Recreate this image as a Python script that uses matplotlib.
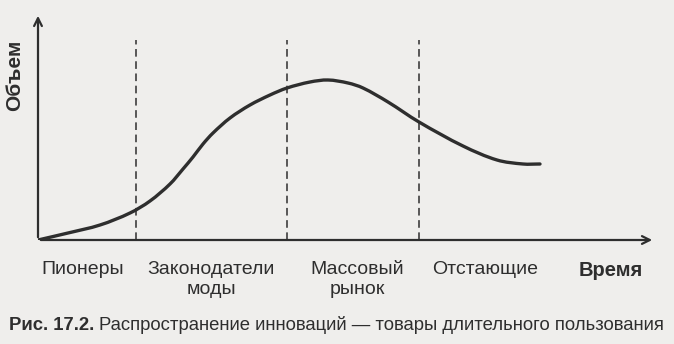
import matplotlib
matplotlib.use('Agg')
import matplotlib.pyplot as plt
from matplotlib.path import Path
from matplotlib.patches import PathPatch
import numpy as np

# кривая (время, объем)
vremya = [0, 30, 62, 92, 112, 132, 145, 155, 165, 175, 192, 212, 232, 249, 272,
          290, 310, 325, 350, 381, 425, 459, 485, 502]
obem = [0, 7, 15, 27, 39, 56, 71, 83, 96, 107, 122, 135, 145, 152, 158,
        160, 157, 152, 138, 118, 94, 80, 76, 76]
granicy = [98, 249, 381]
etapy = ["Пионеры", "Законодатели\nмоды", "Массовый\nрынок", "Отстающие"]
etapy_x = [45, 173, 319, 447]

FON = '#efeeec'
CVET = '#2e2e2e'
plt.rcParams['font.family'] = ['Liberation Sans', 'DejaVu Sans']


def gladkaya(xs, ys):
    # кривые Безье через точки, касательные по длине хорд
    p = np.column_stack([xs, ys]).astype(float)
    d = np.hypot(*np.diff(p, axis=0).T)
    m = np.zeros_like(p)
    m[0] = (p[1] - p[0]) / d[0]
    m[-1] = (p[-1] - p[-2]) / d[-1]
    for i in range(1, len(p) - 1):
        m[i] = (p[i + 1] - p[i - 1]) / (d[i - 1] + d[i])
    verts, codes = [p[0]], [Path.MOVETO]
    for i in range(len(p) - 1):
        verts += [p[i] + m[i] * d[i] / 3, p[i + 1] - m[i + 1] * d[i] / 3, p[i + 1]]
        codes += [Path.CURVE4] * 3
    return Path(verts, codes)


fig = plt.figure(figsize=(6.74, 3.44), dpi=100)
fig.patch.set_facecolor(FON)
ax = fig.add_axes([38/674, 104/344, 617/674, 227/344])
ax.set_facecolor(FON)
ax.set_xlim(0, 617)
ax.set_ylim(0, 227)
ax.axis('off')

ax.add_patch(PathPatch(gladkaya(vremya, obem), fill=False, edgecolor=CVET, lw=2.4,
                       capstyle='round', joinstyle='round'))
for gx in granicy:
    ax.plot([gx, gx], [0, 200], color=CVET, lw=1.1, ls=(0, (5, 3)))

# оси со стрелками
ax.annotate('', xy=(617, 0), xytext=(0, 0),
            arrowprops=dict(arrowstyle='->', color=CVET, lw=1.6, mutation_scale=14))
ax.annotate('', xy=(0, 227), xytext=(0, 0),
            arrowprops=dict(arrowstyle='->', color=CVET, lw=1.6, mutation_scale=14))

for x, t in zip(etapy_x, etapy):
    ax.text(x, -21, t, ha='center', va='top', fontsize=14, color=CVET, linespacing=1.22)
ax.text(573, -21, "Время", ha='center', va='top', fontsize=14.5, fontweight='bold', color=CVET)
fig.text(15/674, 1 - 75/344, "Объем", rotation=90, ha='center', va='center',
         fontsize=15, fontweight='bold', color=CVET)

t1 = fig.text(9/674, 1 - 325/344, "Рис. 17.2.", ha='left', va='center',
              fontsize=13.3, fontweight='bold', color=CVET)
fig.canvas.draw()
bb = t1.get_window_extent()
fig.text((bb.x1 + 5) / 674, 1 - 325/344,
         "Распространение инноваций — товары длительного пользования",
         ha='left', va='center', fontsize=13.3, color=CVET)

plt.savefig("out.png", dpi=100, facecolor=FON)
plt.close()
